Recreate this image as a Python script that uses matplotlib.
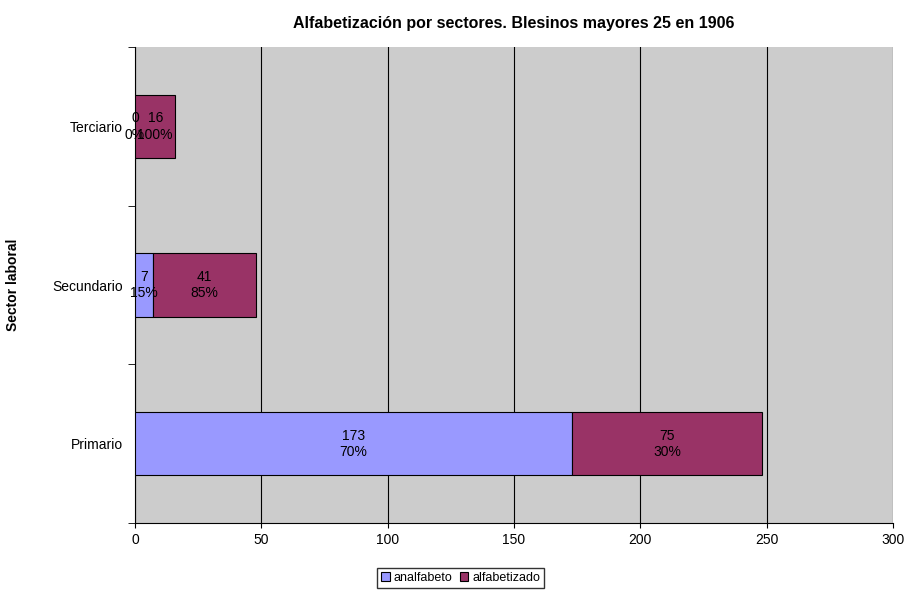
import matplotlib
matplotlib.use("Agg")
import matplotlib.pyplot as plt

plt.rcParams["font.family"] = "Liberation Sans"

sectores = ["Primario", "Secundario", "Terciario"]
analfabeto = [173, 7, 0]
alfabetizado = [75, 41, 16]
pct_analf = ["70%", "15%", "0%"]
pct_alfa = ["30%", "85%", "100%"]

fig = plt.figure(figsize=(9.21, 5.97), dpi=100)
ax = fig.add_axes([0.1466, 0.124, 0.823, 0.797])
ax.set_facecolor("#cccccc")

y = range(len(sectores))
ax.barh(y, analfabeto, height=0.4, color="#9999ff", edgecolor="black", linewidth=0.8, label="analfabeto", zorder=3)
ax.barh(y, alfabetizado, left=analfabeto, height=0.4, color="#993366", edgecolor="black", linewidth=0.8, label="alfabetizado", zorder=3)

# etiquetas valor + porcentaje centradas en cada segmento
for i in y:
    a, b = analfabeto[i], alfabetizado[i]
    ax.text(a / 2, i, f"{a}\n{pct_analf[i]}", ha="center", va="center", fontsize=10, zorder=4)
    ax.text(a + b / 2, i, f"{b}\n{pct_alfa[i]}", ha="center", va="center", fontsize=10, zorder=4)

ax.set_xlim(0, 300)
ax.set_ylim(-0.5, 2.5)
ax.set_xticks(range(0, 301, 50))
ax.set_yticks(list(y))
ax.set_yticklabels(sectores)
ax.set_yticks([-0.5, 0.5, 1.5, 2.5], minor=True)
ax.tick_params(axis="y", which="major", length=0, pad=9)
ax.tick_params(axis="y", which="minor", length=5)
ax.tick_params(labelsize=10)
ax.grid(axis="x", color="black", linewidth=0.8, zorder=1)
for s in ["top", "right"]:
    ax.spines[s].set_visible(False)

ax.set_ylabel("Sector laboral", fontweight="bold", fontsize=10)
ax.yaxis.set_label_coords(-0.152, 0.5)
ax.set_title("Alfabetización por sectores. Blesinos mayores 25 en 1906", fontweight="bold", fontsize=11.5, pad=14)

fig.legend(loc="lower center", bbox_to_anchor=(0.5, 0.005), ncol=2, frameon=True, fancybox=False,
           edgecolor="black", fontsize=9, handlelength=0.7, handletextpad=0.3, columnspacing=0.6, borderpad=0.3)

fig.savefig("out.png", dpi=100)
